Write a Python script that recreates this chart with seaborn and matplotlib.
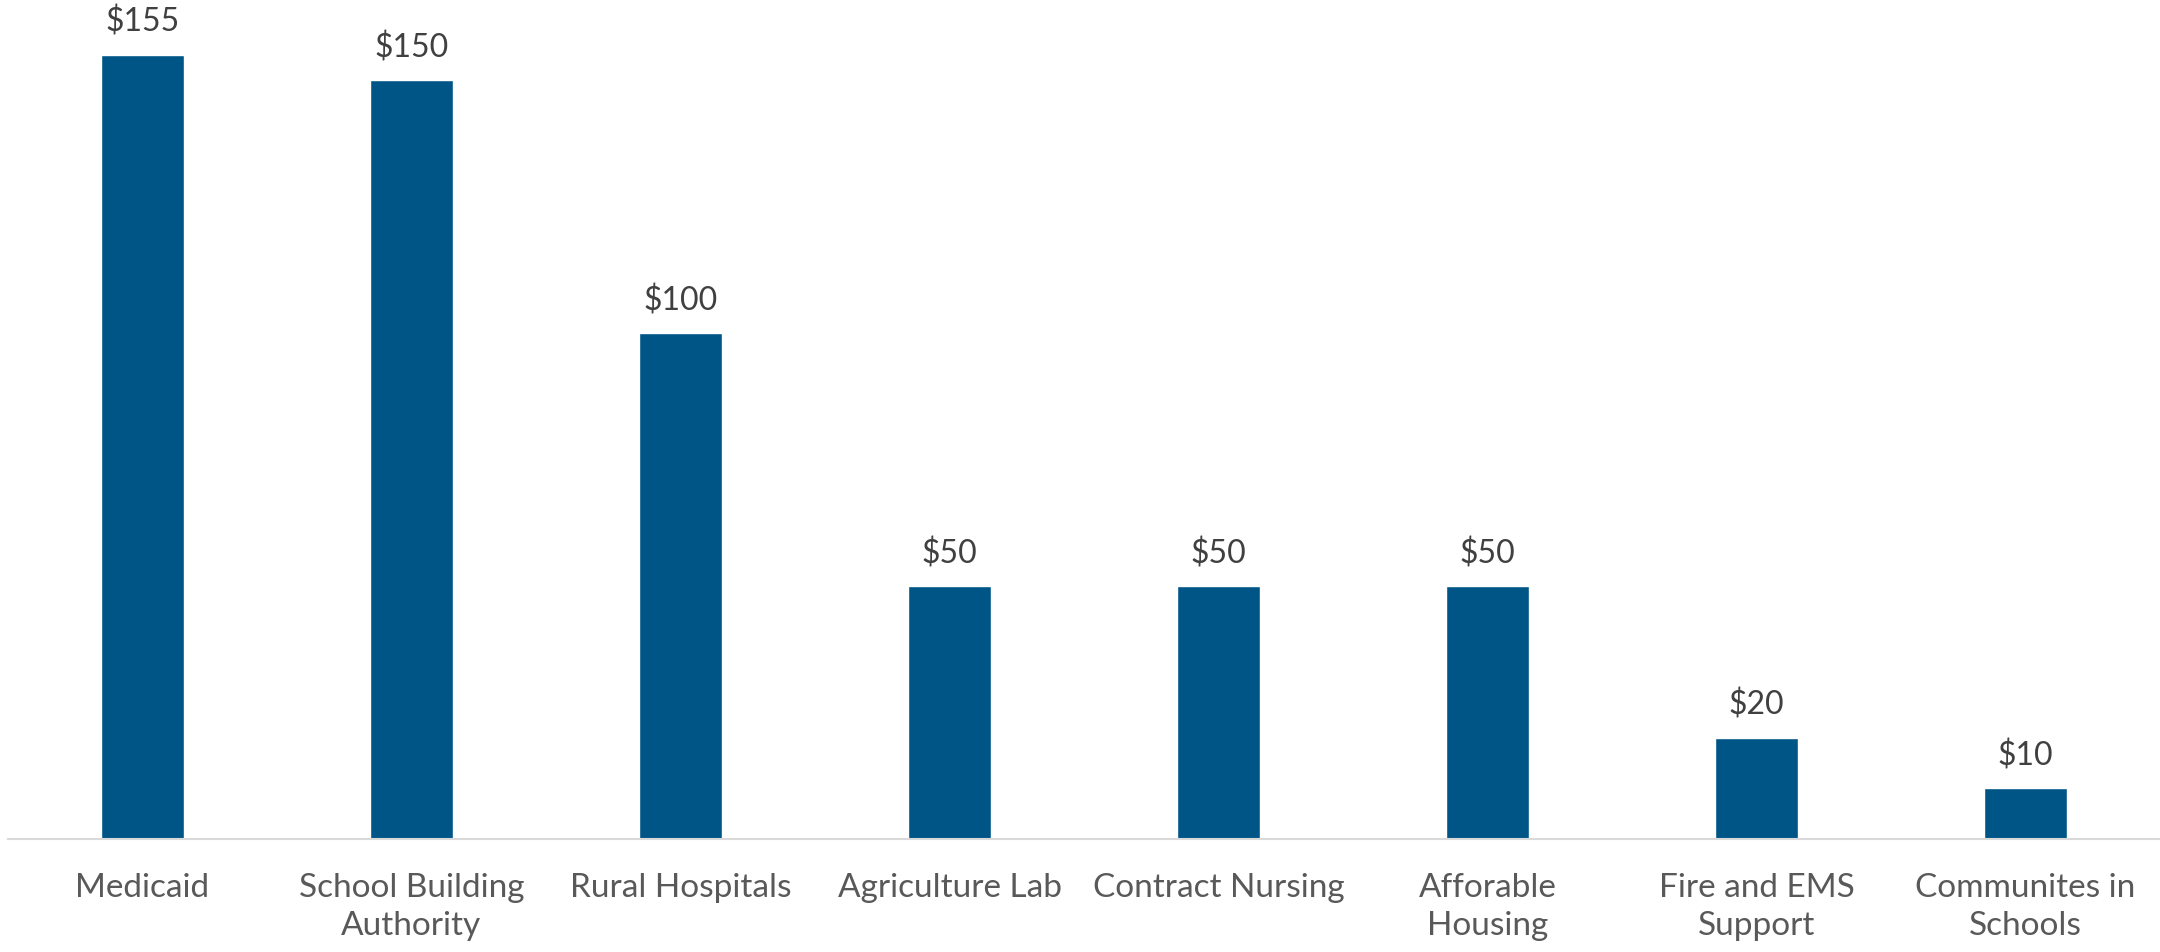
import matplotlib
matplotlib.use("Agg")
import matplotlib.pyplot as plt
import seaborn as sns
import pandas as pd

categories = ["Medicaid", "School Building\nAuthority", "Rural Hospitals", "Agriculture Lab",
              "Contract Nursing", "Afforable\nHousing", "Fire and EMS\nSupport", "Communites in\nSchools"]
values = [155, 150, 100, 50, 50, 50, 20, 10]
labels = ["$155", "$150", "$100", "$50", "$50", "$50", "$20", "$10"]

sns.set_theme(style="white")
plt.rcParams['font.family'] = ['Lato', 'DejaVu Sans']

df = pd.DataFrame({"cat": categories, "val": values})

fig = plt.figure(figsize=(21.6, 9.53), dpi=100)
ax = fig.add_axes([8/2160, 113/953, 1 - 8/2160, (840-56)/953])
sns.barplot(data=df, x="cat", y="val", color="#005587", saturation=1, width=0.31, ax=ax)
ax.set_ylim(0, 155)
ax.set_xlim(-0.5, len(categories) - 0.5)
for i, (v, t) in enumerate(zip(values, labels)):
    ax.annotate(t, (i, v), xytext=(0, 13), textcoords="offset points",
                ha="center", va="bottom", fontsize=23, color="#404040")
ax.set_xlabel("")
ax.set_ylabel("")
ax.set_yticks([])
for s in ["top", "right", "left"]:
    ax.spines[s].set_visible(False)
ax.spines["bottom"].set_color("#d9d9d9")
ax.spines["bottom"].set_linewidth(1.5)
ax.tick_params(axis="x", length=0, pad=24, labelsize=24, colors="#595959")
for lab in ax.get_xticklabels():
    lab.set_linespacing(1.3)
ax.patch.set_alpha(0)
fig.savefig("out.png", dpi=100, facecolor="white")
